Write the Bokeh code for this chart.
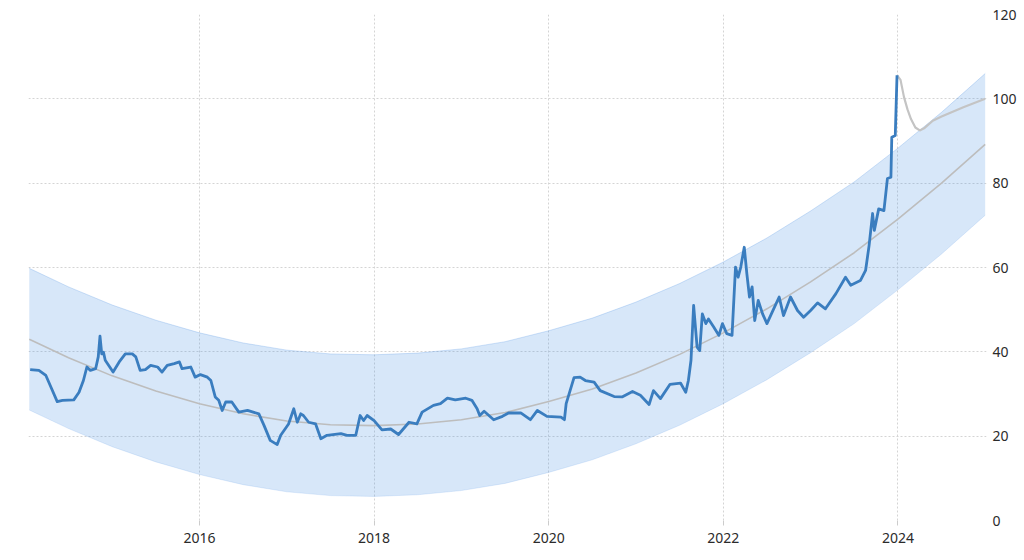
from bokeh.plotting import figure
from bokeh.models import Range1d, FixedTicker
from bokeh.embed import file_html
from bokeh.resources import INLINE

# ---- data ----
trend_years = [2014.05, 2014.5, 2015.0, 2015.5, 2016.0, 2016.5, 2017.0, 2017.5, 2018.0, 2018.5,
               2019.0, 2019.5, 2020.0, 2020.5, 2021.0, 2021.5, 2022.0, 2022.5, 2023.0, 2023.5,
               2024.0, 2024.5, 2025.0]
trend_values = [43.0, 38.6, 34.3, 30.7, 27.7, 25.3, 23.6, 22.7, 22.5, 22.9,
                23.9, 25.6, 28.2, 31.2, 35.0, 39.4, 44.5, 50.2, 56.6, 63.5,
                71.5, 80.0, 89.2]
band_upper = [59.8, 55.4, 51.1, 47.5, 44.5, 42.1, 40.4, 39.5, 39.3, 39.7,
              40.7, 42.4, 45.0, 48.0, 51.8, 56.2, 61.3, 67.0, 73.4, 80.3,
              88.3, 96.8, 106.0]
band_lower = [26.2, 21.8, 17.5, 13.9, 10.9, 8.5, 6.8, 5.9, 5.7, 6.1,
              7.1, 8.8, 11.4, 14.4, 18.2, 22.6, 27.7, 33.4, 39.8, 46.7,
              54.7, 63.2, 72.4]

hist_years = [2014.06, 2014.16, 2014.24, 2014.29, 2014.37, 2014.43, 2014.56, 2014.62, 2014.67, 2014.71,
              2014.75, 2014.81, 2014.84, 2014.86, 2014.88, 2014.90, 2014.92, 2015.01, 2015.08, 2015.15,
              2015.23, 2015.27, 2015.32, 2015.38, 2015.44, 2015.52, 2015.57, 2015.63, 2015.71, 2015.77,
              2015.80, 2015.90, 2015.95, 2016.01, 2016.09, 2016.13, 2016.18, 2016.22, 2016.26, 2016.30,
              2016.37, 2016.45, 2016.55, 2016.68, 2016.74, 2016.81, 2016.89, 2016.93, 2017.02, 2017.08,
              2017.12, 2017.16, 2017.19, 2017.25, 2017.33, 2017.39, 2017.46, 2017.62, 2017.69, 2017.79,
              2017.84, 2017.88, 2017.92, 2018.00, 2018.09, 2018.19, 2018.28, 2018.40, 2018.49, 2018.55,
              2018.68, 2018.76, 2018.84, 2018.93, 2019.05, 2019.12, 2019.18, 2019.21, 2019.26, 2019.37,
              2019.47, 2019.54, 2019.68, 2019.79, 2019.87, 2019.98, 2020.14, 2020.18, 2020.20, 2020.29,
              2020.36, 2020.42, 2020.52, 2020.59, 2020.75, 2020.84, 2020.96, 2021.05, 2021.15, 2021.20,
              2021.28, 2021.39, 2021.51, 2021.57, 2021.60, 2021.63, 2021.66, 2021.70, 2021.73, 2021.76,
              2021.80, 2021.83, 2021.89, 2021.95, 2021.99, 2022.04, 2022.10, 2022.14, 2022.17, 2022.20,
              2022.24, 2022.27, 2022.30, 2022.33, 2022.36, 2022.40, 2022.45, 2022.50, 2022.56, 2022.64,
              2022.69, 2022.77, 2022.85, 2022.92, 2023.00, 2023.08, 2023.17, 2023.29, 2023.40, 2023.46,
              2023.57, 2023.63, 2023.67, 2023.71, 2023.73, 2023.78, 2023.84, 2023.88, 2023.92, 2023.93,
              2023.97, 2023.99]
hist_values = [35.8, 35.6, 34.4, 32.0, 28.2, 28.5, 28.6, 30.4, 33.2, 36.4,
               35.6, 36.0, 38.8, 43.7, 39.5, 39.9, 38.0, 35.2, 37.6, 39.5,
               39.5, 38.8, 35.6, 35.8, 36.8, 36.4, 35.2, 36.8, 37.2, 37.6,
               36.0, 36.4, 34.0, 34.6, 34.0, 33.2, 29.3, 28.5, 26.1, 28.1,
               28.1, 25.7, 26.1, 25.3, 22.5, 19.0, 18.0, 20.2, 22.9, 26.5,
               23.3, 25.3, 24.9, 23.3, 22.9, 19.4, 20.2, 20.6, 20.2, 20.2,
               24.9, 23.7, 24.9, 23.7, 21.5, 21.7, 20.4, 23.3, 22.9, 25.7,
               27.3, 27.7, 29.0, 28.6, 29.0, 28.5, 26.5, 24.9, 25.9, 23.9,
               24.7, 25.5, 25.5, 23.9, 26.1, 24.7, 24.5, 23.9, 27.7, 33.9,
               34.0, 33.2, 32.8, 30.8, 29.4, 29.3, 30.6, 29.7, 27.5, 30.8,
               28.9, 32.3, 32.6, 30.4, 33.2, 38.0, 51.0, 41.1, 40.3, 49.0,
               46.7, 47.8, 45.9, 43.9, 46.7, 44.3, 43.9, 60.1, 57.7, 60.1,
               64.8, 58.5, 53.0, 55.4, 47.4, 52.2, 49.0, 46.7, 49.4, 53.0,
               48.6, 53.0, 49.8, 48.2, 49.8, 51.6, 50.2, 53.8, 57.7, 55.8,
               56.9, 59.3, 65.2, 72.8, 68.8, 73.9, 73.5, 81.1, 81.4, 90.9,
               91.3, 105.6]

forecast_years = [2023.99, 2024.03, 2024.07, 2024.11, 2024.15, 2024.20, 2024.25, 2024.30,
                  2024.40, 2024.50, 2024.75, 2025.00]
forecast_values = [105.6, 104.5, 100.4, 97.5, 95.2, 93.2, 92.5, 93.0,
                   94.8, 95.8, 98.0, 100.0]

x_ticks = [2016, 2018, 2020, 2022, 2024]
y_ticks = [0, 20, 40, 60, 80, 100, 120]

# ---- figure ----
p = figure(width=1020, height=556, output_backend="svg", toolbar_location=None,
           x_range=Range1d(2014.041, 2025.015), y_range=Range1d(0, 120),
           y_axis_location="right",
           min_border_left=28, min_border_right=34, min_border_top=14, min_border_bottom=36)
p.outline_line_color = None
p.background_fill_color = "white"
p.border_fill_color = "white"

# band
p.varea(x=trend_years, y1=band_lower, y2=band_upper, fill_color="#4a90e2", fill_alpha=0.22)
p.line(trend_years, band_upper, line_color="#4a90e2", line_alpha=0.25, line_width=1)
p.line(trend_years, band_lower, line_color="#4a90e2", line_alpha=0.15, line_width=1)
# trend
p.line(trend_years, trend_values, line_color="#bdbdbd", line_width=1.6)
# forecast
p.line(forecast_years, forecast_values, line_color="#c4c4c4", line_width=2.2)
# history
p.line(hist_years, hist_values, line_color="#3a7dbf", line_width=2.8, line_join="round")

# axes
xa = p.xaxis[0]
xa.ticker = FixedTicker(ticks=x_ticks)
xa.axis_line_color = None
xa.major_tick_line_color = "#cccccc"
xa.major_tick_in = 0
xa.major_tick_out = 5
xa.minor_tick_line_color = None
xa.major_label_standoff = 7
xa.major_label_text_font = "Noto Sans"
xa.major_label_text_font_size = "14px"
xa.major_label_text_color = "#2b2b2b"

ya = p.yaxis[0]
ya.ticker = FixedTicker(ticks=y_ticks)
ya.axis_line_color = None
ya.major_tick_line_color = None
ya.major_tick_in = 0
ya.major_tick_out = 0
ya.minor_tick_line_color = None
ya.major_label_standoff = 6
ya.major_label_text_font = "Noto Sans"
ya.major_label_text_font_size = "14px"
ya.major_label_text_color = "#2b2b2b"

p.xgrid.ticker = FixedTicker(ticks=x_ticks)
p.ygrid.ticker = FixedTicker(ticks=y_ticks)
for g in (p.xgrid[0], p.ygrid[0]):
    g.grid_line_color = "#d4d4d4"
    g.grid_line_dash = "2 2"
    g.grid_line_width = 1

open("out.html", "w").write(file_html(p, INLINE))
